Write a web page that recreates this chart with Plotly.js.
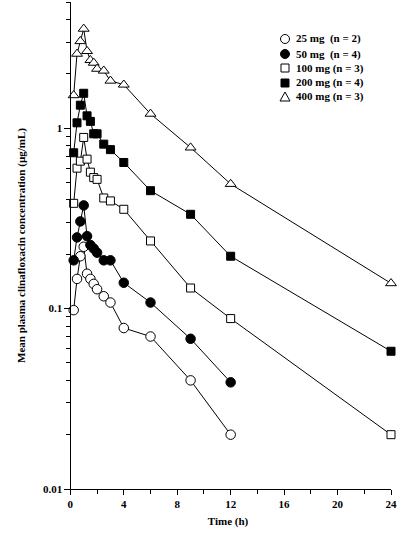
<!DOCTYPE html>
<html>
<head>
<meta charset="utf-8">
<script src="https://cdn.plot.ly/plotly-3.0.1.min.js"></script>
<style>html,body{margin:0;padding:0;background:#fff;}#chart{width:400px;height:537px;}</style>
</head>
<body>
<div id="chart"></div>
<script>
// Sampling times (h)
const times = [0.25, 0.5, 0.75, 1, 1.25, 1.5, 1.75, 2, 2.5, 3, 4, 6, 9, 12, 24];
const times12 = [0.25, 0.5, 0.75, 1, 1.25, 1.5, 1.75, 2, 2.5, 3, 4, 6, 9, 12];

// Mean plasma concentrations (µg/mL)
const conc25  = [0.098, 0.146, 0.195, 0.22, 0.156, 0.146, 0.137, 0.128, 0.117, 0.108, 0.078, 0.070, 0.040, 0.020];
const conc50  = [0.185, 0.248, 0.304, 0.373, 0.252, 0.225, 0.215, 0.204, 0.185, 0.185, 0.139, 0.108, 0.068, 0.039];
const conc100 = [0.383, 0.60, 0.656, 0.888, 0.673, 0.57, 0.532, 0.52, 0.41, 0.395, 0.355, 0.237, 0.13, 0.088, 0.020];
const conc200 = [0.73, 1.07, 1.34, 1.56, 1.17, 1.09, 0.93, 0.93, 0.815, 0.76, 0.645, 0.45, 0.333, 0.195, 0.058];
const conc400 = [1.52, 2.58, 3.03, 3.55, 2.67, 2.38, 2.30, 2.13, 2.08, 1.83, 1.74, 1.20, 0.78, 0.49, 0.138];

const seriesLabels = ['25 mg  (n = 2)', '50 mg  (n = 4)', '100 mg (n = 3)', '200 mg (n = 4)', '400 mg (n = 3)'];
const xTickVals = [0, 4, 8, 12, 16, 20, 24];
const yTickVals = [0.01, 0.1, 1];
const yTickText = ['0.01', '0.1', '1'];

const FONT = 'Liberation Serif, Times New Roman, serif';

function mk(x, y, symbol, fill, size) {
  return {
    x: x, y: y, type: 'scatter', mode: 'lines+markers',
    line: {color: '#000', width: 1},
    marker: {symbol: symbol, size: size, color: fill, line: {color: '#000', width: 1}},
    cliponaxis: false, showlegend: false, hoverinfo: 'x+y'
  };
}

const traces = [
  mk(times12, conc25, 'circle', '#fff', 9.5),
  mk(times12, conc50, 'circle', '#000', 9.5),
  mk(times, conc100, 'square', '#fff', 8),
  mk(times, conc200, 'square', '#000', 8),
  mk(times, conc400, 'triangle-up', '#fff', 9.5)
];

// minor log ticks
const minorY = [];
[0.01, 0.1, 1].forEach(d => { for (let k = 2; k <= 9; k++) { const v = d * k; if (v <= 5.01) minorY.push(v); } });

// Plot area (pixels)
const xMin = -0.4, xMax = 24;
const plotL = 65, plotR = 391, plotT = 2, plotB = 489;
const px = p => (p - plotL) / (plotR - plotL);
const py = p => (plotB - p) / (plotB - plotT);

// Custom compact legend (marker glyphs + text)
const legRows = [39, 54, 68, 83, 97];
const legMarkX = 285, legTextX = 294;
const shapes = [];
const annotations = [];
const legStyles = [
  {kind: 'circle', fill: '#fff'},
  {kind: 'circle', fill: '#000'},
  {kind: 'rect', fill: '#fff'},
  {kind: 'rect', fill: '#000'},
  {kind: 'tri', fill: '#fff'}
];
legStyles.forEach((s, i) => {
  const base = {xref: 'paper', yref: 'paper', xsizemode: 'pixel', ysizemode: 'pixel',
    xanchor: px(legMarkX), yanchor: py(legRows[i]), line: {color: '#000', width: 1}, fillcolor: s.fill};
  if (s.kind === 'circle') shapes.push(Object.assign({type: 'circle', x0: -4.5, x1: 4.5, y0: -4.5, y1: 4.5}, base));
  else if (s.kind === 'rect') shapes.push(Object.assign({type: 'rect', x0: -4, x1: 4, y0: -4, y1: 4}, base));
  else shapes.push(Object.assign({type: 'path', path: 'M-5,-4L5,-4L0,5Z'}, base));
  annotations.push({xref: 'paper', yref: 'paper', x: px(legTextX), y: py(legRows[i]), xanchor: 'left', yanchor: 'middle',
    text: seriesLabels[i], showarrow: false, font: {family: FONT, size: 11, color: '#000', weight: 'bold'}});
});

const layout = {
  width: 400, height: 537,
  margin: {l: plotL, r: 400 - plotR, t: plotT, b: 537 - plotB, pad: 0},
  paper_bgcolor: '#fff', plot_bgcolor: '#fff',
  showlegend: false,
  font: {family: FONT, size: 11, color: '#000', weight: 'bold'},
  xaxis: {
    range: [xMin, xMax], tickmode: 'array', tickvals: xTickVals, ticktext: xTickVals.map(String),
    ticks: 'outside', ticklen: 5, tickwidth: 1, tickcolor: '#000',
    minor: {dtick: 2, tick0: 0, ticks: 'outside', ticklen: 4, tickcolor: '#000', showgrid: false},
    showline: true, linecolor: '#000', linewidth: 1, showgrid: false, zeroline: false,
    tickfont: {family: FONT, size: 11, color: '#000', weight: 'bold'},
    title: {text: 'Time (h)', font: {family: FONT, size: 11, color: '#000', weight: 'bold'}, standoff: 8}
  },
  yaxis: {
    type: 'log', range: [-2, Math.log10(5)], tickmode: 'array', tickvals: yTickVals, ticktext: yTickText,
    anchor: 'free', position: (0 - xMin) / (xMax - xMin),
    ticks: 'outside', ticklen: 6, tickwidth: 1, tickcolor: '#000',
    minor: {tickmode: 'array', tickvals: minorY, ticks: 'outside', ticklen: 4, tickcolor: '#000', showgrid: false},
    showline: true, linecolor: '#000', linewidth: 1, showgrid: false, zeroline: false,
    tickfont: {family: FONT, size: 11, color: '#000', weight: 'bold'},
    title: {text: 'Mean plasma clinafloxacin concentration (µg/mL)', font: {family: FONT, size: 11, color: '#000', weight: 'bold'}, standoff: 14}
  },
  shapes: shapes,
  annotations: annotations
};

Plotly.newPlot('chart', traces, layout, {staticPlot: true, displayModeBar: false});
</script>
</body>
</html>
